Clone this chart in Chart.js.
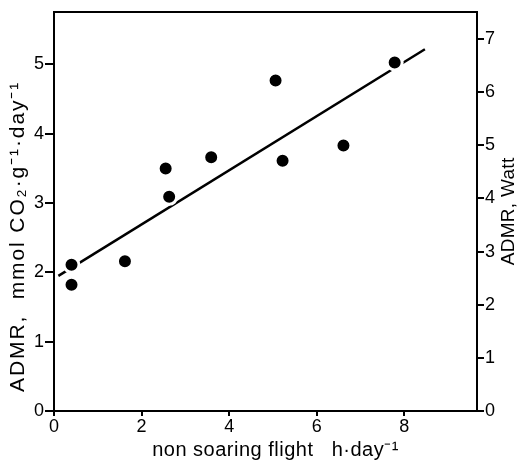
<!DOCTYPE html>
<html>
<head>
<meta charset="utf-8">
<script src="https://cdn.jsdelivr.net/npm/chart.js@4/dist/chart.umd.min.js"></script>
<style>
  html, body { margin: 0; padding: 0; background: #fff; }
  #wrap { width: 519px; height: 466px; }
</style>
</head>
<body>
<div id="wrap"><canvas id="admr-chart" width="519" height="466"></canvas></div>
<script>
// dati
const flightHours = [0.40, 0.40, 1.62, 2.55, 2.63, 3.59, 5.06, 5.22, 6.61, 7.78];
const admrValues  = [2.11, 1.82, 2.16, 3.50, 3.09, 3.66, 4.77, 3.61, 3.83, 5.03];
const fitX = [0.10, 8.47];
const fitY = [1.95, 5.22];

const xTicks = [0, 2, 4, 6, 8];
const leftTicks = [0, 1, 2, 3, 4, 5];
const rightTicks = [0, 1, 2, 3, 4, 5, 6, 7];

const xTitle = 'non soaring flight   h·day⁻¹';
const leftTitle = 'ADMR,  mmol CO₂·g⁻¹·day⁻¹';
const rightTitle = 'ADMR, Watt';

const fontFamily = '"Liberation Sans", Arial, Helvetica, sans-serif';
const black = '#000';

const points = flightHours.map((x, i) => ({ x: x, y: admrValues[i] }));
const fitLine = fitX.map((x, i) => ({ x: x, y: fitY[i] }));

function fixedTicks(list) {
    return function (scale) {
        scale.ticks = list.map(v => ({ value: v }));
    };
}

// titoli degli assi disegnati a mano (entrambi ruotati di -90°, con spaziatura)
const axisTitles = {
    id: 'axisTitles',
    afterDraw(chart) {
        const ctx = chart.ctx;
        const area = chart.chartArea;
        ctx.save();
        ctx.fillStyle = black;
        ctx.textAlign = 'center';
        ctx.textBaseline = 'middle';

        ctx.font = '20px ' + fontFamily;
        ctx.letterSpacing = '0.5px';
        ctx.fillText(xTitle, (area.left + area.right) / 2 + 10, 450);

        ctx.save();
        ctx.font = '21px ' + fontFamily;
        ctx.letterSpacing = '1.9px';
        ctx.translate(18, (area.top + area.bottom) / 2 + 25);
        ctx.rotate(-Math.PI / 2);
        ctx.fillText(leftTitle, 0, 0);
        ctx.restore();

        ctx.save();
        ctx.font = '19px ' + fontFamily;
        ctx.letterSpacing = '0.3px';
        ctx.translate(509, (area.top + area.bottom) / 2);
        ctx.rotate(-Math.PI / 2);
        ctx.fillText(rightTitle, 0, 0);
        ctx.restore();

        ctx.restore();
    }
};

new Chart(document.getElementById('admr-chart'), {
    type: 'scatter',
    data: {
        datasets: [
            {
                type: 'line',
                data: fitLine,
                borderColor: black,
                borderWidth: 2.5,
                pointRadius: 0,
                fill: false,
                yAxisID: 'y',
                order: 2
            },
            {
                data: points,
                backgroundColor: black,
                borderColor: '#fff',
                pointRadius: 7.5,
                pointBorderWidth: 3,
                yAxisID: 'y',
                order: 1
            }
        ]
    },
    options: {
        responsive: false,
        animation: false,
        layout: { padding: 0 },
        plugins: {
            legend: { display: false },
            tooltip: { enabled: false }
        },
        scales: {
            x: {
                type: 'linear',
                position: 'bottom',
                min: 0,
                max: 9.66,
                afterBuildTicks: fixedTicks(xTicks),
                afterFit: s => { s.height = 55; },
                border: { display: true, color: black, width: 2 },
                grid: { drawOnChartArea: false, drawTicks: true, tickLength: 5, color: black, lineWidth: 2 },
                ticks: { color: black, padding: 0, font: { family: fontFamily, size: 18 }, maxRotation: 0 }
            },
            xTop: {
                type: 'linear',
                position: 'top',
                min: 0,
                max: 9.66,
                afterFit: s => { s.height = 6; },
                border: { display: true, color: black, width: 2 },
                grid: { drawOnChartArea: false, drawTicks: false },
                ticks: { display: false }
            },
            y: {
                type: 'linear',
                position: 'left',
                min: 0,
                max: 5.76,
                afterBuildTicks: fixedTicks(leftTicks),
                afterFit: s => { s.width = 54; },
                border: { display: true, color: black, width: 2 },
                grid: { drawOnChartArea: false, drawTicks: true, tickLength: 9, color: black, lineWidth: 2 },
                ticks: { color: black, padding: 1, font: { family: fontFamily, size: 18 } }
            },
            y2: {
                type: 'linear',
                position: 'right',
                min: 0,
                max: 7.51,
                afterBuildTicks: fixedTicks(rightTicks),
                afterFit: s => { s.width = 42; },
                border: { display: true, color: black, width: 2 },
                grid: { drawOnChartArea: false, drawTicks: true, tickLength: 7, color: black, lineWidth: 2 },
                ticks: { color: black, padding: 1, font: { family: fontFamily, size: 18 } }
            }
        }
    },
    plugins: [axisTitles]
});
</script>
</body>
</html>
